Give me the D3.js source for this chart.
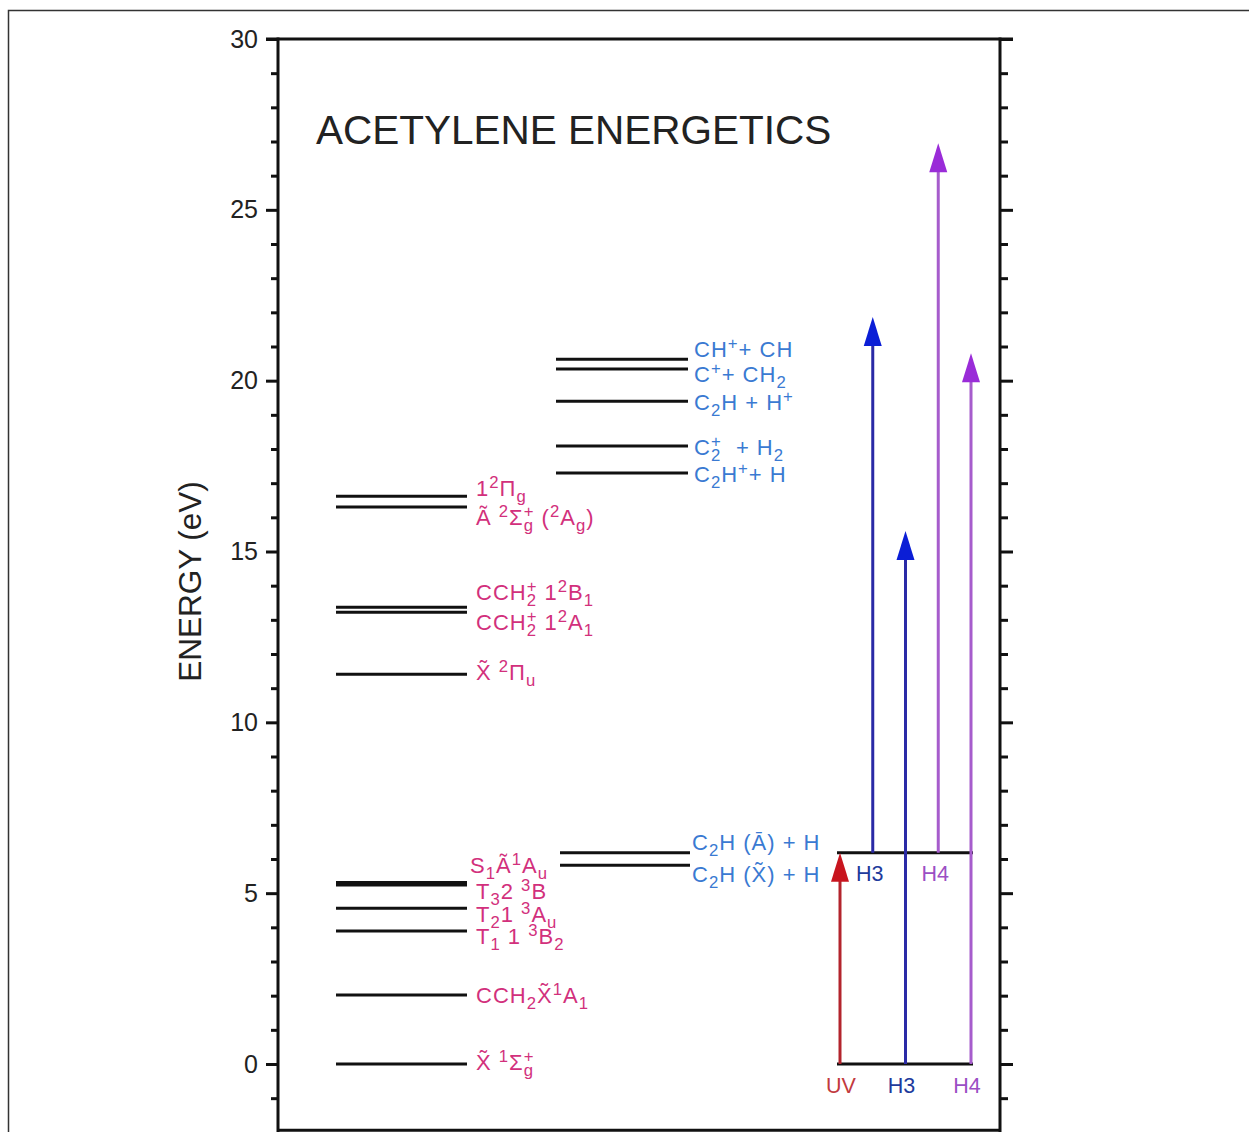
<!DOCTYPE html>
<html><head><meta charset="utf-8">
<script src="https://cdn.jsdelivr.net/npm/d3@7"></script>
<style>
html,body{margin:0;padding:0;background:#fff;}
svg text{font-family:"Liberation Sans",Arial,Helvetica,sans-serif;white-space:pre;}
</style></head>
<body>
<svg id="c" width="1249" height="1132"></svg>
<script>
// ---------------- data ----------------
const majorTicks = [0, 5, 10, 15, 20, 25, 30];
const minorTicks = [-1,1,2,3,4,6,7,8,9,11,12,13,14,16,17,18,19,21,22,23,24,26,27,28,29];
const tickLabels = ["0","5","10","15","20","25","30"];

// neutral acetylene / CCH2 / cation states (left column)
const leftLevels = [0, 2.02, 3.89, 4.56, 5.24, 5.31, 11.41, 13.22, 13.37, 16.30, 16.62];
const leftLabels = ["1^{2}Π_{g}", "Ã ^{2}Σ@{g|+} (^{2}A_{g})", "CCH@{2|+} 1^{2}B_{1}", "CCH@{2|+} 1^{2}A_{1}",
  "X̃ ^{2}Π_{u}", "S_{1}Ã^{1}A_{u}", "T_{3}2 ^{3}B", "T_{2}1 ^{3}A_{u}", "T_{1} 1 ^{3}B_{2}",
  "CCH_{2}X̃^{1}A_{1}", "X̃ ^{1}Σ@{g|+}"];
const leftLabelE = [16.62, 15.77, 13.58, 12.70, 11.24, 5.59, 4.83, 4.16, 3.52, 1.79, -0.18];

// dissociation limits (middle column)
const midLevels = [17.30, 18.09, 19.40, 20.34, 20.63];
const midLowLevels = [5.82, 6.18];
const midLabels = ["CH^{+}+ CH", "C^{+}+ CH_{2}", "C_{2}H + H^{+}", "C@{2|+}  + H_{2}", "C_{2}H^{+}+ H",
  "C_{2}H (Ā) + H", "C_{2}H (X̃) + H"];
const midLabelE = [20.69, 19.96, 19.14, 17.82, 17.03, 6.26, 5.33];

// excitation arrows
const arrowCols = ["UV", "H3a", "H3b", "H4a", "H4b"];
const arrowFrom = [0, 6.18, 0, 6.18, 0];
const arrowTo = [6.18, 21.86, 15.6, 26.95, 20.8];
const arrowKind = ["UV", "H3", "H3", "H4", "H4"];
const boxLevels = [0, 6.18];
const topArrowLabels = ["H3", "H4"];
const bottomArrowLabels = ["UV", "H3", "H4"];

// ---------------- drawing ----------------
const svg = d3.select("#c");
const y = d3.scaleLinear().domain([0, 30]).range([1064, 39]);
const xLeft = 278, xRight = 1000;
const xa = d3.scalePoint().domain(arrowCols).range([840, 971]);

const colors = {
  magenta: "#d2307c", blue: "#3a7ad2",
  UV: {line: "#b3242c", head: "#c8141e", text: "#c23a3e"},
  H3: {line: "#2a2aa6", head: "#0b1ed6", text: "#213a9c"},
  H4: {line: "#a65ccc", head: "#9a2cd8", text: "#9b4fc4"}
};

// outer frame
svg.append("path").attr("d", "M8.5,1132 V10.5 H1249").attr("fill", "none").attr("stroke", "#333").attr("stroke-width", 1.5);

// axes
const axG = svg.append("g");
const leftMajor = d3.axisLeft(y).tickValues(majorTicks).tickSize(12).tickPadding(8).tickFormat((d, i) => tickLabels[i]);
const leftMinor = d3.axisLeft(y).tickValues(minorTicks).tickSize(7).tickFormat("");
const rightMajor = d3.axisRight(y).tickValues(majorTicks).tickSize(13).tickFormat("");
const rightMinor = d3.axisRight(y).tickValues(minorTicks).tickSize(8).tickFormat("");
[[leftMajor, xLeft], [leftMinor, xLeft], [rightMajor, xRight], [rightMinor, xRight]].forEach(([ax, x]) => {
  const g = axG.append("g").attr("transform", `translate(${x},0)`).call(ax);
  g.select(".domain").remove();
  g.selectAll("line").attr("stroke", "#111").attr("stroke-width", 3);
  g.selectAll("text").attr("font-size", 25).attr("fill", "#222").attr("font-family", '"Liberation Sans",Arial,sans-serif');
});
// axis lines
axG.append("line").attr("x1", xLeft).attr("x2", xLeft).attr("y1", y(30) - 1.5).attr("y2", 1132).attr("stroke", "#111").attr("stroke-width", 3);
axG.append("line").attr("x1", xRight).attr("x2", xRight).attr("y1", y(30) - 1.5).attr("y2", 1132).attr("stroke", "#111").attr("stroke-width", 3);
axG.append("line").attr("x1", xLeft).attr("x2", xRight).attr("y1", y(-2) - 2).attr("y2", y(-2) - 2).attr("stroke", "#111").attr("stroke-width", 3);
axG.append("line").attr("x1", xLeft - 12).attr("x2", xRight + 13).attr("y1", y(30)).attr("y2", y(30)).attr("stroke", "#111").attr("stroke-width", 3);

// axis title
svg.append("text").attr("transform", `translate(201,${y(15) + 30}) rotate(-90)`).attr("text-anchor", "middle")
  .attr("font-size", 31.5).attr("fill", "#222").text("ENERGY (eV)");

// chart title
svg.append("text").attr("x", 316).attr("y", 144).attr("font-size", 40.5).attr("fill", "#222").text("ACETYLENE ENERGETICS");

// rich text helper: one <text> per label, tspans placed absolutely
function parse(s) {
  const segs = []; let i = 0, buf = "";
  while (i < s.length) {
    const c = s[i];
    if ((c === "_" || c === "^" || c === "@") && s[i + 1] === "{") {
      if (buf) { segs.push({type: "n", t: buf}); buf = ""; }
      const j = s.indexOf("}", i);
      const inner = s.slice(i + 2, j);
      if (c === "@") { const [a, b] = inner.split("|"); segs.push({type: "stack", sub: a, sup: b}); }
      else segs.push({type: c === "_" ? "sub" : "sup", t: inner});
      i = j + 1;
    } else { buf += c; i++; }
  }
  if (buf) segs.push({type: "n", t: buf});
  return segs;
}
const LS = 1;
const meas = svg.append("text").attr("x", -1000).attr("y", -1000).attr("letter-spacing", LS);
function textW(t, fs) { meas.attr("font-size", fs).text(t); return meas.node().getComputedTextLength(); }
function rich(g, str, x, yb, size, color) {
  const small = size * 0.76;
  const subY = yb + size * 0.27, supY = yb - size * 0.36;
  const pieces = [];
  let cx = x;
  parse(str).forEach(s => {
    if (s.type === "n") { pieces.push({t: s.t, x: cx, y: yb, fs: size}); cx += textW(s.t, size); }
    else if (s.type === "sub") { pieces.push({t: s.t, x: cx, y: subY, fs: small}); cx += textW(s.t, small); }
    else if (s.type === "sup") { pieces.push({t: s.t, x: cx, y: supY, fs: small}); cx += textW(s.t, small); }
    else {
      pieces.push({t: s.sub, x: cx, y: subY, fs: small});
      pieces.push({t: s.sup, x: cx, y: supY, fs: small});
      cx += Math.max(textW(s.sub, small), textW(s.sup, small));
    }
  });
  const tx = g.append("text").attr("fill", color).attr("letter-spacing", LS);
  tx.selectAll("tspan").data(pieces).join("tspan")
    .attr("x", d => d.x).attr("y", d => d.y).attr("font-size", d => d.fs).text(d => d.t);
}

// levels
const lvG = svg.append("g").attr("stroke", "#111").attr("stroke-width", 3);
lvG.selectAll(".l").data(leftLevels).join("line").attr("x1", 336).attr("x2", 467).attr("y1", d => y(d)).attr("y2", d => y(d));
lvG.selectAll(".m").data(midLevels).join("line").attr("class", "m").attr("x1", 556).attr("x2", 688).attr("y1", d => y(d)).attr("y2", d => y(d));
lvG.selectAll(".n").data(midLowLevels).join("line").attr("class", "n").attr("x1", 560).attr("x2", 690).attr("y1", d => y(d)).attr("y2", d => y(d));

// labels
const labG = svg.append("g");
leftLabels.forEach((t, i) => rich(labG, t, t.startsWith("S_") ? 470 : 476, y(leftLabelE[i]), 22, colors.magenta));
midLabels.forEach((t, i) => rich(labG, t, i >= 5 ? 692 : 694, y(midLabelE[i]), 22, colors.blue));
meas.remove();

// box lines of arrow diagram
svg.selectAll(".box").data(boxLevels).join("line").attr("class", "box")
  .attr("x1", xa("UV") - 3).attr("x2", xa("H4b") + 2).attr("y1", d => y(d)).attr("y2", d => y(d))
  .attr("stroke", "#111").attr("stroke-width", 3);

// arrows
const arG = svg.append("g");
arrowCols.forEach((c, i) => {
  const col = colors[arrowKind[i]];
  const x = xa(c), y0 = y(arrowFrom[i]), y1 = y(arrowTo[i]);
  arG.append("line").attr("x1", x).attr("x2", x).attr("y1", y0).attr("y2", y1 + 20)
    .attr("stroke", col.line).attr("stroke-width", 3);
  arG.append("path").attr("d", `M${x},${y1} L${x + 9},${y1 + 29} L${x - 9},${y1 + 29} Z`).attr("fill", col.head);
});

// arrow labels
const topCols = ["H3a", "H4a"];
topArrowLabels.forEach((t, i) => {
  svg.append("text").attr("x", xa(topCols[i]) - 3).attr("y", y(6.18) + 28).attr("text-anchor", "middle")
    .attr("font-size", 21.5).attr("fill", colors[t].text).text(t);
});
const botCols = ["UV", "H3b", "H4b"];
bottomArrowLabels.forEach((t, i) => {
  svg.append("text").attr("x", xa(botCols[i]) + (i === 0 ? 1 : -4)).attr("y", y(0) + 29).attr("text-anchor", "middle")
    .attr("font-size", 21.5).attr("fill", colors[t].text).text(t);
});
</script>
</body></html>
